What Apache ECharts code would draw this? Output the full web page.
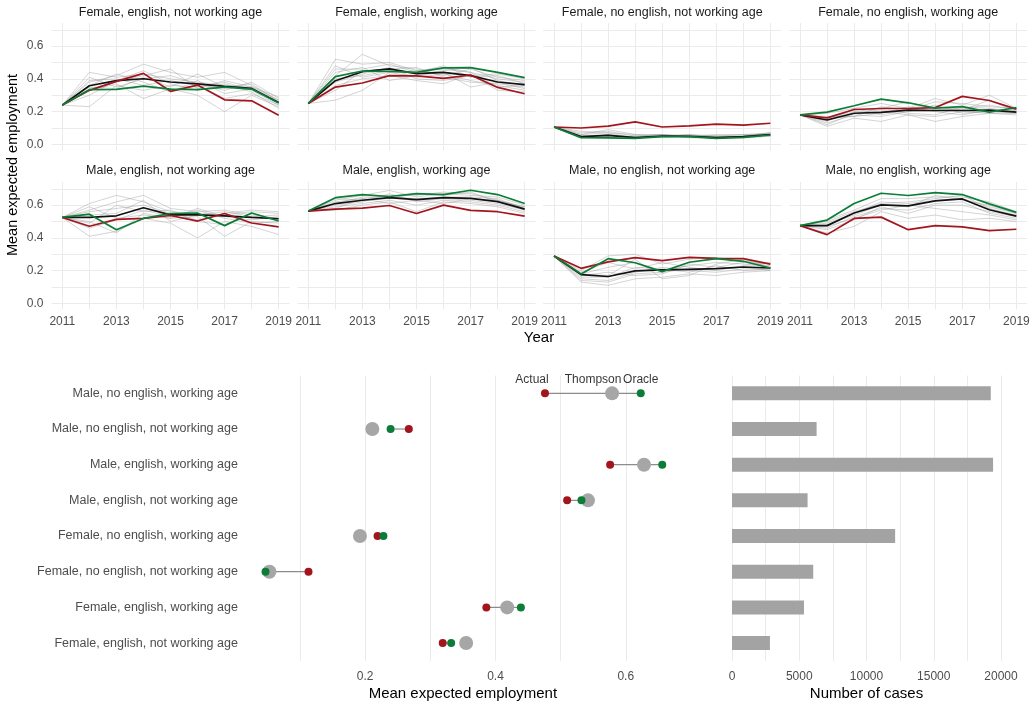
<!DOCTYPE html>
<html>
<head>
<meta charset="utf-8">
<script src="https://cdn.jsdelivr.net/npm/echarts@6/dist/echarts.min.js"></script>
<style>
  html, body { margin: 0; padding: 0; background: #ffffff; }
  #chart { width: 1036px; height: 706px; }
</style>
</head>
<body>
<div id="chart"></div>
<script>
// ---------- yearly trajectories ----------
const years = [2011, 2012, 2013, 2014, 2015, 2016, 2017, 2018, 2019];

const panelTitles = [
  'Female, english, not working age',
  'Female, english, working age',
  'Female, no english, not working age',
  'Female, no english, working age',
  'Male, english, not working age',
  'Male, english, working age',
  'Male, no english, not working age',
  'Male, no english, working age'
];

// Female, english, not working age
const femEngNotWorkActual   = [0.240, 0.330, 0.385, 0.434, 0.324, 0.362, 0.272, 0.266, 0.178];
const femEngNotWorkOracle   = [0.240, 0.334, 0.336, 0.356, 0.338, 0.334, 0.350, 0.338, 0.252];
const femEngNotWorkThompson = [0.240, 0.358, 0.389, 0.401, 0.381, 0.369, 0.354, 0.342, 0.256];
const femEngNotWorkSims = [
  [0.24, 0.44, 0.41, 0.43, 0.40, 0.38, 0.36, 0.35, 0.27],
  [0.24, 0.23, 0.36, 0.33, 0.36, 0.35, 0.38, 0.33, 0.24],
  [0.24, 0.38, 0.42, 0.49, 0.44, 0.41, 0.44, 0.36, 0.27],
  [0.24, 0.33, 0.37, 0.28, 0.34, 0.30, 0.20, 0.30, 0.23],
  [0.24, 0.41, 0.35, 0.40, 0.42, 0.37, 0.33, 0.38, 0.28],
  [0.24, 0.36, 0.43, 0.38, 0.32, 0.39, 0.31, 0.34, 0.25],
  [0.24, 0.30, 0.39, 0.45, 0.37, 0.33, 0.37, 0.32, 0.22],
  [0.24, 0.35, 0.34, 0.41, 0.35, 0.43, 0.35, 0.37, 0.26],
  [0.24, 0.39, 0.40, 0.36, 0.39, 0.36, 0.28, 0.31, 0.24],
  [0.24, 0.34, 0.38, 0.42, 0.46, 0.34, 0.39, 0.35, 0.29]
];

// Female, english, working age
const femEngWorkActual   = [0.250, 0.350, 0.375, 0.420, 0.418, 0.403, 0.424, 0.348, 0.309];
const femEngWorkOracle   = [0.250, 0.414, 0.448, 0.446, 0.440, 0.467, 0.469, 0.440, 0.408];
const femEngWorkThompson = [0.250, 0.389, 0.444, 0.461, 0.432, 0.440, 0.420, 0.381, 0.365];
const femEngWorkSims = [
  [0.25, 0.52, 0.49, 0.50, 0.45, 0.47, 0.44, 0.40, 0.38],
  [0.25, 0.27, 0.33, 0.44, 0.41, 0.43, 0.39, 0.36, 0.33],
  [0.25, 0.42, 0.55, 0.48, 0.46, 0.42, 0.46, 0.41, 0.39],
  [0.25, 0.36, 0.40, 0.42, 0.39, 0.37, 0.43, 0.33, 0.32],
  [0.25, 0.46, 0.46, 0.49, 0.44, 0.48, 0.41, 0.42, 0.37],
  [0.25, 0.33, 0.45, 0.46, 0.47, 0.41, 0.38, 0.37, 0.35],
  [0.25, 0.40, 0.42, 0.45, 0.43, 0.45, 0.47, 0.39, 0.36],
  [0.25, 0.44, 0.47, 0.39, 0.42, 0.44, 0.35, 0.38, 0.34],
  [0.25, 0.38, 0.43, 0.47, 0.40, 0.39, 0.42, 0.43, 0.40],
  [0.25, 0.48, 0.41, 0.44, 0.45, 0.46, 0.44, 0.35, 0.36]
];

// Female, no english, not working age
const femNoEngNotWorkActual   = [0.106, 0.100, 0.111, 0.137, 0.106, 0.113, 0.123, 0.117, 0.129];
const femNoEngNotWorkOracle   = [0.106, 0.041, 0.039, 0.037, 0.047, 0.047, 0.037, 0.043, 0.057];
const femNoEngNotWorkThompson = [0.106, 0.047, 0.055, 0.041, 0.051, 0.049, 0.041, 0.047, 0.059];
const femNoEngNotWorkSims = [
  [0.106, 0.07, 0.08, 0.05, 0.06, 0.05, 0.05, 0.05, 0.07],
  [0.106, 0.05, 0.06, 0.04, 0.05, 0.06, 0.04, 0.05, 0.06],
  [0.106, 0.06, 0.09, 0.06, 0.05, 0.05, 0.05, 0.06, 0.07],
  [0.106, 0.04, 0.05, 0.05, 0.06, 0.04, 0.04, 0.04, 0.05],
  [0.106, 0.08, 0.07, 0.04, 0.05, 0.06, 0.05, 0.05, 0.06],
  [0.106, 0.05, 0.04, 0.05, 0.04, 0.05, 0.06, 0.06, 0.06],
  [0.106, 0.06, 0.07, 0.06, 0.06, 0.05, 0.04, 0.05, 0.07],
  [0.106, 0.04, 0.06, 0.04, 0.05, 0.05, 0.05, 0.04, 0.05]
];

// Female, no english, working age
const femNoEngWorkActual   = [0.180, 0.162, 0.213, 0.219, 0.219, 0.225, 0.293, 0.268, 0.215];
const femNoEngWorkOracle   = [0.180, 0.197, 0.236, 0.276, 0.254, 0.221, 0.231, 0.197, 0.225];
const femNoEngWorkThompson = [0.180, 0.149, 0.190, 0.195, 0.209, 0.207, 0.207, 0.209, 0.197];
const femNoEngWorkSims = [
  [0.18, 0.19, 0.22, 0.25, 0.22, 0.28, 0.24, 0.30, 0.22],
  [0.18, 0.11, 0.16, 0.14, 0.18, 0.14, 0.17, 0.19, 0.18],
  [0.18, 0.16, 0.21, 0.22, 0.26, 0.21, 0.22, 0.24, 0.21],
  [0.18, 0.13, 0.18, 0.17, 0.20, 0.24, 0.19, 0.20, 0.19],
  [0.18, 0.15, 0.20, 0.21, 0.19, 0.18, 0.23, 0.22, 0.20],
  [0.18, 0.17, 0.17, 0.19, 0.23, 0.20, 0.18, 0.21, 0.21],
  [0.18, 0.14, 0.22, 0.18, 0.21, 0.23, 0.21, 0.27, 0.20],
  [0.18, 0.12, 0.19, 0.20, 0.18, 0.17, 0.20, 0.19, 0.19],
  [0.18, 0.16, 0.17, 0.23, 0.21, 0.26, 0.25, 0.23, 0.22]
];

// Male, english, not working age
const maleEngNotWorkActual   = [0.525, 0.471, 0.513, 0.519, 0.537, 0.503, 0.549, 0.491, 0.467];
const maleEngNotWorkOracle   = [0.525, 0.545, 0.450, 0.519, 0.549, 0.552, 0.475, 0.552, 0.503];
const maleEngNotWorkThompson = [0.525, 0.525, 0.535, 0.584, 0.541, 0.541, 0.535, 0.525, 0.517];
const maleEngNotWorkSims = [
  [0.525, 0.61, 0.66, 0.62, 0.56, 0.55, 0.54, 0.56, 0.55],
  [0.525, 0.41, 0.44, 0.52, 0.49, 0.40, 0.50, 0.47, 0.42],
  [0.525, 0.57, 0.62, 0.66, 0.58, 0.56, 0.57, 0.54, 0.52],
  [0.525, 0.50, 0.43, 0.55, 0.52, 0.53, 0.41, 0.50, 0.49],
  [0.525, 0.56, 0.58, 0.60, 0.55, 0.51, 0.55, 0.57, 0.56],
  [0.525, 0.46, 0.51, 0.57, 0.53, 0.57, 0.52, 0.49, 0.50],
  [0.525, 0.54, 0.55, 0.63, 0.50, 0.54, 0.56, 0.53, 0.54],
  [0.525, 0.49, 0.60, 0.56, 0.57, 0.50, 0.48, 0.55, 0.51],
  [0.525, 0.59, 0.52, 0.54, 0.52, 0.58, 0.53, 0.51, 0.53]
];

// Male, english, working age
const maleEngWorkActual   = [0.564, 0.576, 0.582, 0.598, 0.549, 0.600, 0.568, 0.560, 0.533];
const maleEngWorkOracle   = [0.564, 0.646, 0.665, 0.653, 0.671, 0.665, 0.691, 0.665, 0.610];
const maleEngWorkThompson = [0.564, 0.610, 0.630, 0.646, 0.634, 0.646, 0.642, 0.622, 0.576];
const maleEngWorkSims = [
  [0.564, 0.63, 0.66, 0.69, 0.65, 0.67, 0.66, 0.65, 0.60],
  [0.564, 0.57, 0.60, 0.62, 0.56, 0.62, 0.61, 0.59, 0.55],
  [0.564, 0.62, 0.64, 0.66, 0.66, 0.68, 0.67, 0.63, 0.59],
  [0.564, 0.59, 0.61, 0.63, 0.60, 0.63, 0.62, 0.60, 0.56],
  [0.564, 0.61, 0.65, 0.65, 0.64, 0.65, 0.65, 0.64, 0.58],
  [0.564, 0.60, 0.62, 0.67, 0.62, 0.64, 0.63, 0.61, 0.57],
  [0.564, 0.64, 0.63, 0.64, 0.67, 0.66, 0.68, 0.62, 0.59],
  [0.564, 0.58, 0.64, 0.61, 0.63, 0.61, 0.64, 0.63, 0.58]
];

// Male, no english, not working age
const maleNoEngNotWorkActual   = [0.289, 0.214, 0.253, 0.279, 0.261, 0.281, 0.275, 0.273, 0.240];
const maleNoEngNotWorkOracle   = [0.289, 0.180, 0.273, 0.248, 0.194, 0.251, 0.273, 0.257, 0.216];
const maleNoEngNotWorkThompson = [0.289, 0.176, 0.164, 0.198, 0.204, 0.208, 0.212, 0.222, 0.216];
const maleNoEngNotWorkSims = [
  [0.289, 0.20, 0.29, 0.30, 0.24, 0.27, 0.28, 0.26, 0.24],
  [0.289, 0.13, 0.11, 0.15, 0.16, 0.18, 0.17, 0.19, 0.20],
  [0.289, 0.18, 0.22, 0.25, 0.20, 0.23, 0.25, 0.24, 0.22],
  [0.289, 0.15, 0.14, 0.19, 0.22, 0.20, 0.19, 0.21, 0.21],
  [0.289, 0.17, 0.19, 0.17, 0.18, 0.24, 0.22, 0.25, 0.23],
  [0.289, 0.16, 0.16, 0.22, 0.21, 0.19, 0.23, 0.20, 0.21],
  [0.289, 0.19, 0.25, 0.21, 0.25, 0.22, 0.20, 0.23, 0.25],
  [0.289, 0.14, 0.13, 0.18, 0.19, 0.21, 0.21, 0.22, 0.20],
  [0.289, 0.18, 0.17, 0.27, 0.15, 0.17, 0.24, 0.27, 0.22]
];

// Male, no english, working age
const maleNoEngWorkActual   = [0.475, 0.420, 0.519, 0.527, 0.450, 0.475, 0.467, 0.444, 0.453];
const maleNoEngWorkOracle   = [0.475, 0.509, 0.610, 0.673, 0.659, 0.677, 0.665, 0.608, 0.556];
const maleNoEngWorkThompson = [0.475, 0.475, 0.552, 0.602, 0.596, 0.626, 0.638, 0.572, 0.533];
const maleNoEngWorkSims = [
  [0.475, 0.51, 0.57, 0.64, 0.64, 0.65, 0.65, 0.62, 0.56],
  [0.475, 0.43, 0.47, 0.56, 0.52, 0.54, 0.51, 0.52, 0.50],
  [0.475, 0.49, 0.55, 0.62, 0.61, 0.63, 0.64, 0.59, 0.55],
  [0.475, 0.46, 0.53, 0.58, 0.57, 0.61, 0.62, 0.55, 0.52],
  [0.475, 0.50, 0.56, 0.61, 0.62, 0.64, 0.66, 0.58, 0.54],
  [0.475, 0.45, 0.51, 0.59, 0.55, 0.60, 0.60, 0.56, 0.53],
  [0.475, 0.48, 0.54, 0.60, 0.59, 0.66, 0.63, 0.60, 0.55],
  [0.475, 0.47, 0.52, 0.57, 0.60, 0.58, 0.56, 0.54, 0.51]
];

// ---------- summary by group ----------
const summaryCategories = [
  'Male, no english, working age',
  'Male, no english, not working age',
  'Male, english, working age',
  'Male, english, not working age',
  'Female, no english, working age',
  'Female, no english, not working age',
  'Female, english, working age',
  'Female, english, not working age'
];
const summaryActual   = [0.476, 0.267, 0.576, 0.510, 0.219, 0.113, 0.386, 0.319];
const summaryThompson = [0.579, 0.211, 0.628, 0.542, 0.192, 0.053, 0.418, 0.355];
const summaryOracle   = [0.623, 0.239, 0.656, 0.532, 0.228, 0.047, 0.439, 0.332];
const caseCounts      = [19240, 6290, 19410, 5620, 12130, 6040, 5350, 2820];
const policyNames     = ['Actual', 'Thompson', 'Oracle'];

// ---------- styling ----------
const FONT = '"Liberation Sans", Arial, Helvetica, sans-serif';
const RED = '#A3151D';
const GREEN = '#0B7D36';
const BLACK = '#111111';
const GRID_LINE = '#EBEBEB';
const TICK_TEXT = '#4D4D4D';

const panels = [
  [femEngNotWorkActual, femEngNotWorkOracle, femEngNotWorkThompson, femEngNotWorkSims],
  [femEngWorkActual, femEngWorkOracle, femEngWorkThompson, femEngWorkSims],
  [femNoEngNotWorkActual, femNoEngNotWorkOracle, femNoEngNotWorkThompson, femNoEngNotWorkSims],
  [femNoEngWorkActual, femNoEngWorkOracle, femNoEngWorkThompson, femNoEngWorkSims],
  [maleEngNotWorkActual, maleEngNotWorkOracle, maleEngNotWorkThompson, maleEngNotWorkSims],
  [maleEngWorkActual, maleEngWorkOracle, maleEngWorkThompson, maleEngWorkSims],
  [maleNoEngNotWorkActual, maleNoEngNotWorkOracle, maleNoEngNotWorkThompson, maleNoEngNotWorkSims],
  [maleNoEngWorkActual, maleNoEngWorkOracle, maleNoEngWorkThompson, maleNoEngWorkSims]
];

const colLeft = [51.5, 297.5, 543.2, 789.2];
const rowTop = [23.1, 182.1];
const PW = 238, PH = 127.3;

const grids = [], xAxes = [], yAxes = [], series = [], graphics = [];

const pair = arr => years.map((y, k) => [y, arr[k]]);

panels.forEach((p, i) => {
  const col = i % 4, row = Math.floor(i / 4);
  const [actual, oracle, thompson, sims] = p;
  grids.push({ left: colLeft[col], top: rowTop[row], width: PW, height: PH, containLabel: false });
  xAxes.push({
    type: 'value', gridIndex: i, min: 2010.6, max: 2019.4,
    splitNumber: 8, minInterval: 1, maxInterval: 1,
    axisLine: { show: false }, axisTick: { show: false },
    axisLabel: {
      show: row === 1, color: TICK_TEXT, fontSize: 12, fontFamily: FONT, margin: 6,
      showMinLabel: false, showMaxLabel: false,
      formatter: v => (Math.abs(v - Math.round(v)) < 1e-6 && Math.round(v) % 2 === 1) ? String(Math.round(v)) : ''
    },
    splitLine: { show: true, showMinLine: false, showMaxLine: false, lineStyle: { color: GRID_LINE, width: 1 } }
  });
  yAxes.push({
    type: 'value', gridIndex: i, min: -0.037, max: 0.741,
    splitNumber: 8, minInterval: 0.1, maxInterval: 0.1,
    axisLine: { show: false }, axisTick: { show: false },
    axisLabel: {
      show: col === 0, color: TICK_TEXT, fontSize: 12, fontFamily: FONT, margin: 8,
      showMinLabel: false, showMaxLabel: false,
      formatter: v => {
        const k = Math.round(v * 10);
        return (Math.abs(v * 10 - k) < 1e-6 && k >= 0 && k % 2 === 0) ? (k / 10).toFixed(1) : '';
      }
    },
    splitLine: { show: true, showMinLine: false, showMaxLine: false, lineStyle: { color: GRID_LINE, width: 1 } }
  });

  sims.forEach(s => series.push({
    type: 'line', xAxisIndex: i, yAxisIndex: i, data: pair(s), symbol: 'none', silent: true,
    lineStyle: { color: '#8C8C8C', width: 0.9, opacity: 0.42 }, z: 1
  }));
  series.push({ type: 'line', xAxisIndex: i, yAxisIndex: i, data: pair(thompson), symbol: 'none',
    lineStyle: { color: BLACK, width: 1.7 }, z: 2 });
  series.push({ type: 'line', xAxisIndex: i, yAxisIndex: i, data: pair(actual), symbol: 'none',
    lineStyle: { color: RED, width: 1.7 }, z: 3 });
  series.push({ type: 'line', xAxisIndex: i, yAxisIndex: i, data: pair(oracle), symbol: 'none',
    lineStyle: { color: GREEN, width: 1.7 }, z: 4 });

  graphics.push({
    type: 'text', x: colLeft[col] + PW / 2, y: row === 0 ? 13 : 171,
    style: { text: panelTitles[i], align: 'center', verticalAlign: 'middle',
             font: '12.5px ' + FONT, fill: '#1A1A1A' }
  });
});

// Shared axis titles of the faceted block
graphics.push({
  type: 'text', x: 539, y: 337.5,
  style: { text: 'Year', align: 'center', verticalAlign: 'middle', font: '15px ' + FONT, fill: '#000' }
});
graphics.push({
  type: 'text', x: 13, y: 165, rotation: Math.PI / 2,
  style: { text: 'Mean expected employment', align: 'center', verticalAlign: 'middle', font: '14.5px ' + FONT, fill: '#000' }
});

// ---------- summary dot plot ----------
const DOT = 8, BOT_TOP = 375.5, BOT_H = 285.4;
grids.push({ left: 234.9, top: BOT_TOP, width: 456, height: BOT_H });
grids.push({ left: 732, top: BOT_TOP, width: 269, height: BOT_H });

xAxes.push({
  type: 'value', gridIndex: 8, min: 0, max: 0.7, interval: 0.1,
  axisLine: { show: false }, axisTick: { show: false },
  axisLabel: {
    color: TICK_TEXT, fontSize: 12, fontFamily: FONT, margin: 10,
    formatter: v => {
      const k = Math.round(v * 10);
      return (k >= 2 && k <= 6 && k % 2 === 0) ? (k / 10).toFixed(1) : '';
    }
  },
  splitLine: { show: true, showMinLine: false, showMaxLine: false, lineStyle: { color: GRID_LINE, width: 1 } },
  name: 'Mean expected employment', nameLocation: 'middle', nameGap: 25,
  nameTextStyle: { color: '#000', fontSize: 15, fontFamily: FONT }
});
yAxes.push({
  type: 'category', gridIndex: 8, data: summaryCategories, inverse: true,
  axisLine: { show: false }, axisTick: { show: false }, splitLine: { show: false },
  axisLabel: { color: TICK_TEXT, fontSize: 12.5, fontFamily: FONT, margin: -3 }
});

xAxes.push({
  type: 'value', gridIndex: 9, min: 0, max: 20000, interval: 2500,
  axisLine: { show: false }, axisTick: { show: false },
  axisLabel: {
    color: TICK_TEXT, fontSize: 12, fontFamily: FONT, margin: 10,
    formatter: v => (v % 5000 === 0) ? String(v) : ''
  },
  splitLine: { show: true, lineStyle: { color: GRID_LINE, width: 1 } },
  name: 'Number of cases', nameLocation: 'middle', nameGap: 25,
  nameTextStyle: { color: '#000', fontSize: 15, fontFamily: FONT }
});
yAxes.push({
  type: 'category', gridIndex: 9, data: summaryCategories, inverse: true,
  axisLine: { show: false }, axisTick: { show: false }, splitLine: { show: false },
  axisLabel: { show: false }
});

// segment from actual to oracle
series.push({
  type: 'custom', xAxisIndex: 8, yAxisIndex: 8, z: 5,
  data: summaryCategories.map((c, i) => [summaryActual[i], summaryOracle[i], i]),
  encode: { x: [0, 1], y: 2 },
  renderItem: (params, api) => {
    const r = api.value(2);
    const a = api.coord([api.value(0), r]);
    const b = api.coord([api.value(1), r]);
    return { type: 'line', shape: { x1: a[0], y1: a[1], x2: b[0], y2: b[1] },
             style: { stroke: '#8C8C8C', lineWidth: 1.2 } };
  }
});
series.push({ type: 'scatter', xAxisIndex: 8, yAxisIndex: 8, z: 6, symbolSize: 14,
  itemStyle: { color: '#A6A6A6', opacity: 1 },
  data: summaryCategories.map((c, i) => [summaryThompson[i], c]) });
series.push({ type: 'scatter', xAxisIndex: 8, yAxisIndex: 8, z: 7, symbolSize: DOT,
  itemStyle: { color: RED, opacity: 1 },
  data: summaryCategories.map((c, i) => [summaryActual[i], c]) });
series.push({ type: 'scatter', xAxisIndex: 8, yAxisIndex: 8, z: 8, symbolSize: DOT,
  itemStyle: { color: GREEN, opacity: 1 },
  data: summaryCategories.map((c, i) => [summaryOracle[i], c]) });

// policy names written above the first row
const nameShift = [-13, -19, 0];
series.push({
  type: 'scatter', xAxisIndex: 8, yAxisIndex: 8, z: 9, symbolSize: 0, silent: true,
  data: [summaryActual[0], summaryThompson[0], summaryOracle[0]].map((v, k) => ({
    value: [v, summaryCategories[0]],
    label: { show: true, position: 'inside', offset: [nameShift[k], -14], formatter: policyNames[k],
             color: '#000', fontSize: 12, fontFamily: FONT }
  }))
});

// ---------- case counts ----------
series.push({
  type: 'bar', xAxisIndex: 9, yAxisIndex: 9, barWidth: 14,
  itemStyle: { color: '#A3A3A3' },
  data: caseCounts
});

const chart = echarts.init(document.getElementById('chart'), null, { renderer: 'canvas' });
chart.setOption({
  animation: false,
  backgroundColor: '#ffffff',
  textStyle: { fontFamily: FONT },
  grid: grids,
  xAxis: xAxes,
  yAxis: yAxes,
  series: series,
  graphic: graphics
});
</script>
</body>
</html>
